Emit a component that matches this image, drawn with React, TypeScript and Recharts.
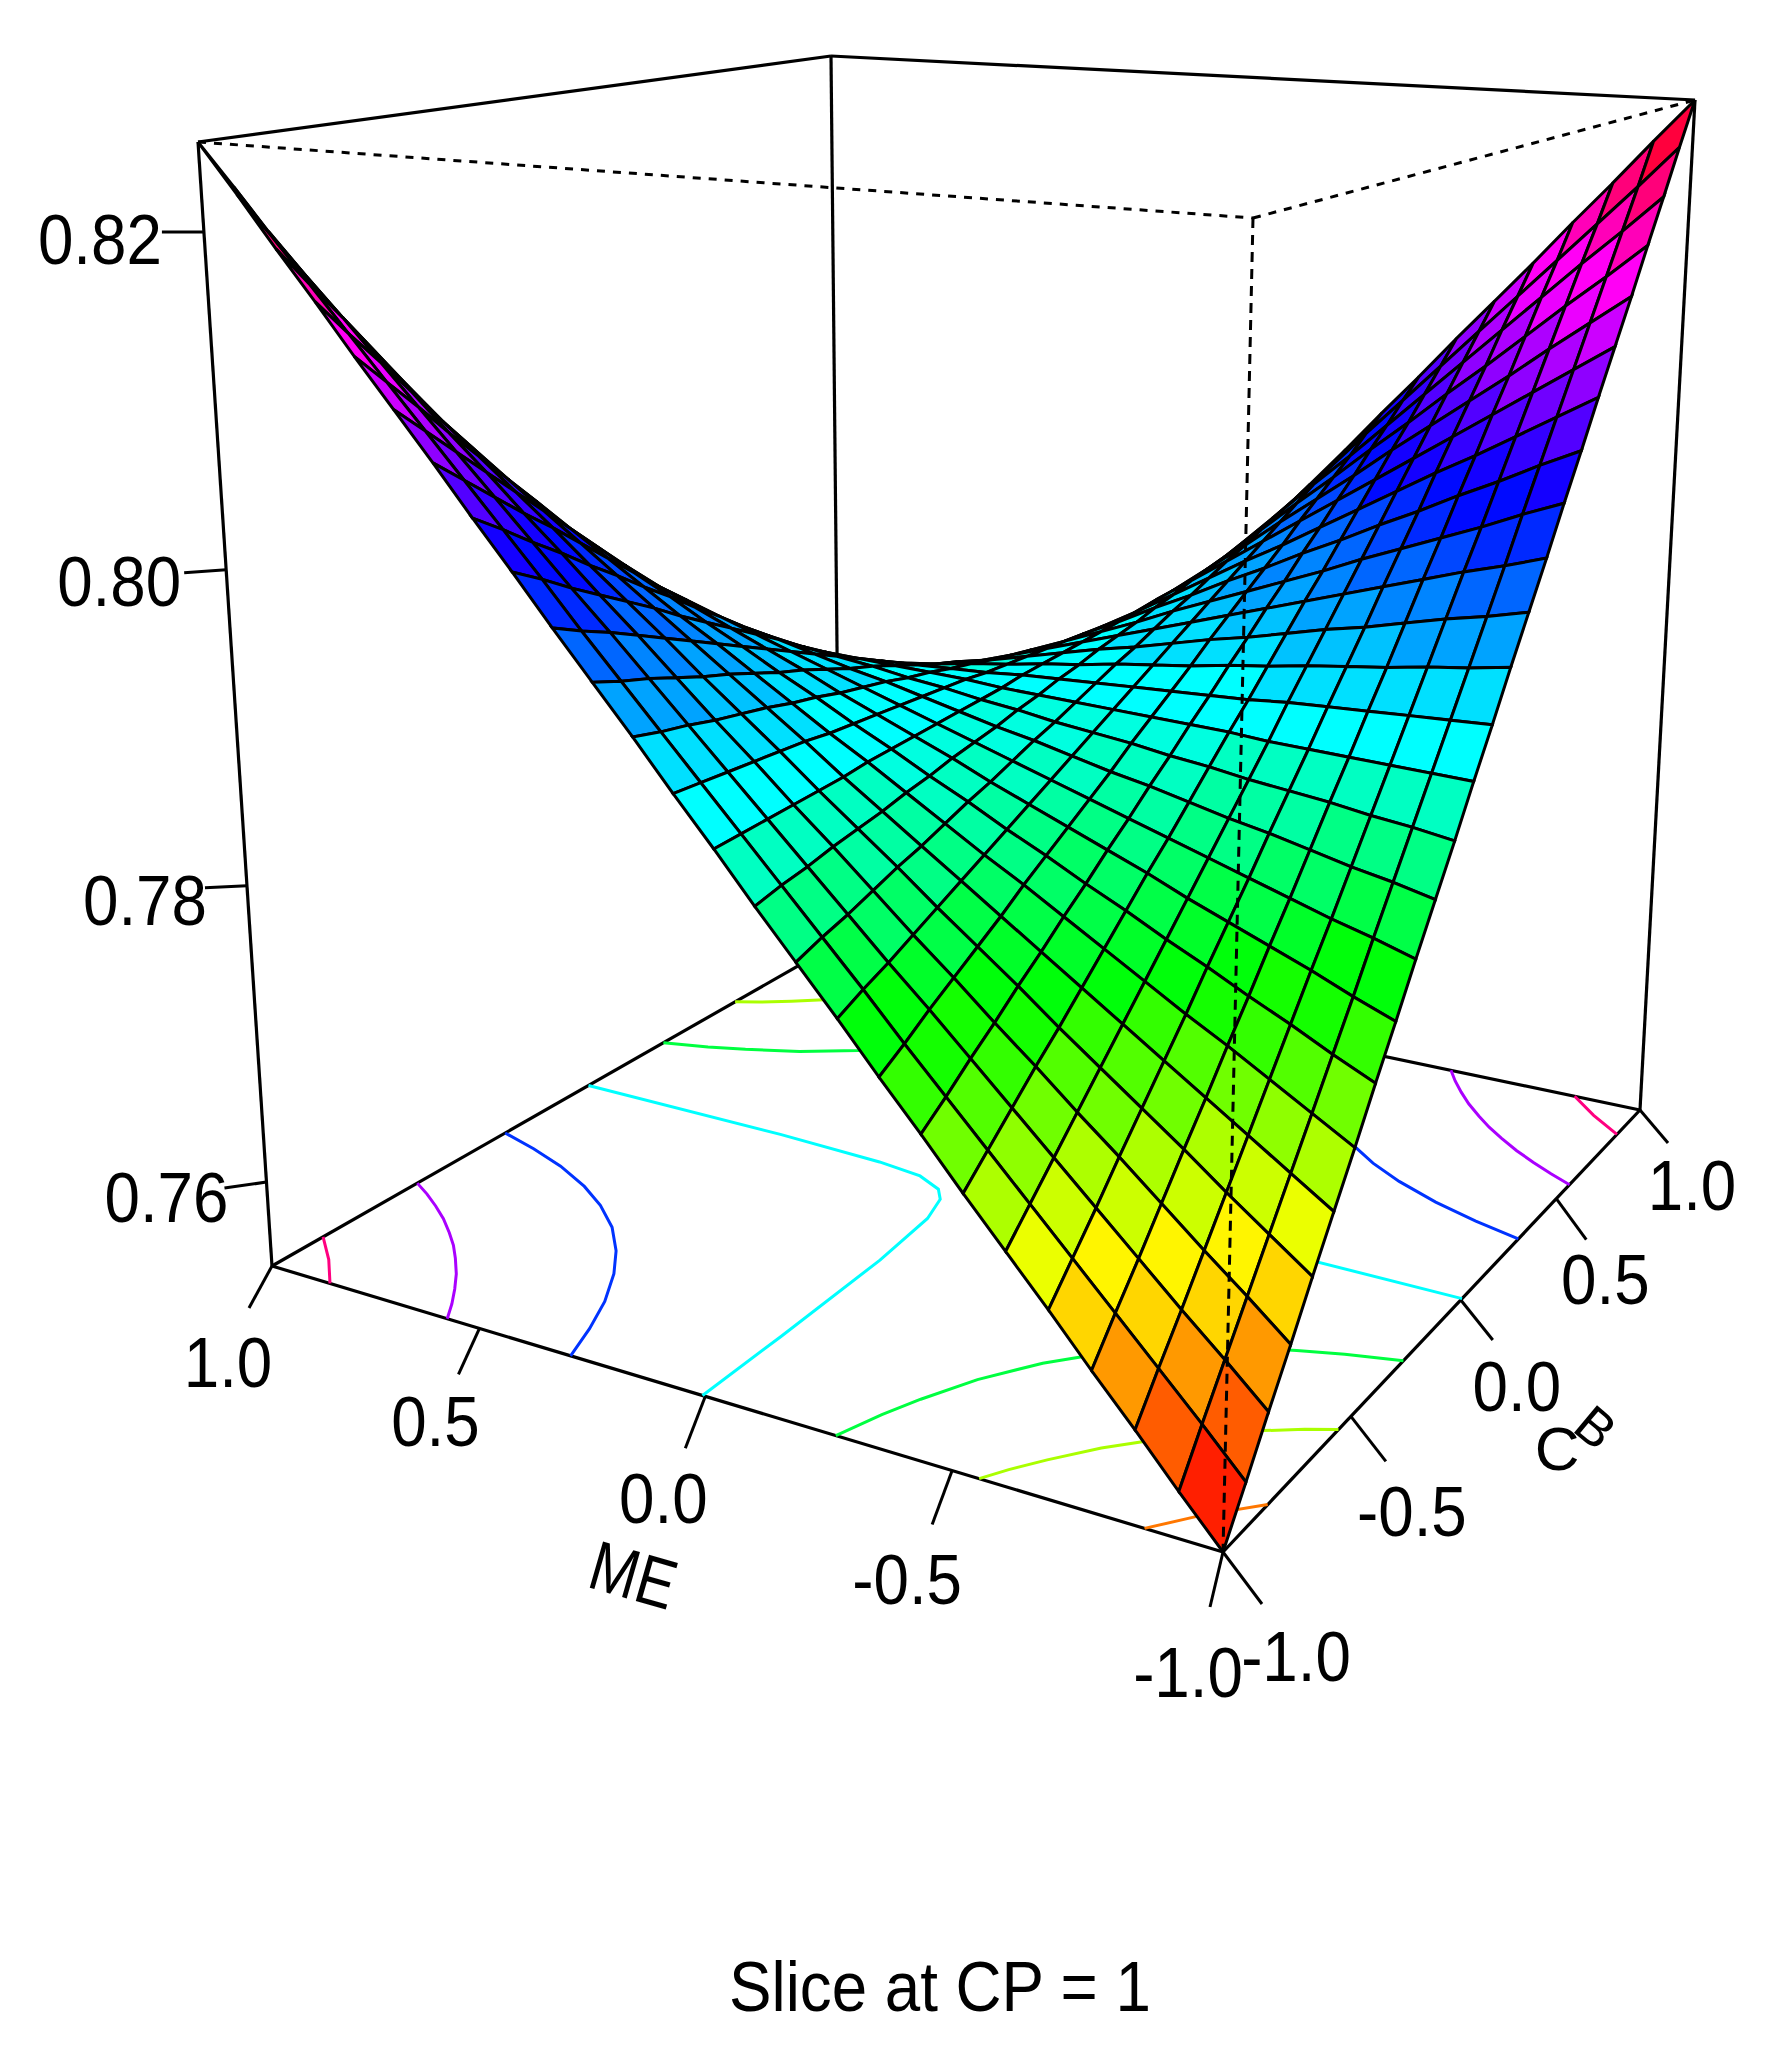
import { Scatter, ScatterChart, XAxis, YAxis } from "recharts";

const W = 1779;
const H = 2046;

const meGrid = [1, 0.92, 0.84, 0.76, 0.68, 0.6, 0.52, 0.44, 0.36, 0.28, 0.2, 0.12, 0.04, -0.04, -0.12, -0.2, -0.28, -0.36, -0.44, -0.52, -0.6, -0.68, -0.76, -0.84, -0.92, -1];
const cbGrid = [-1, -0.92, -0.84, -0.76, -0.68, -0.6, -0.52, -0.44, -0.36, -0.28, -0.2, -0.12, -0.04, 0.04, 0.12, 0.2, 0.28, 0.36, 0.44, 0.52, 0.6, 0.68, 0.76, 0.84, 0.92, 1];

// response, in units of 0.0001; one row per ME value, one column per CB value
const zRows = [
  [8251,8223,8194,8166,8137,8109,8081,8052,8024,7995,7967,7939,7910,7882,7853,7825,7797,7768,7740,7711,7683,7655,7626,7598,7569,7541],
  [8223,8196,8170,8144,8118,8092,8066,8040,8014,7987,7961,7935,7909,7883,7857,7831,7805,7778,7752,7726,7700,7674,7648,7622,7596,7569],
  [8194,8170,8147,8123,8099,8075,8051,8027,8003,7980,7956,7932,7908,7884,7860,7836,7812,7789,7765,7741,7717,7693,7669,7645,7622,7598],
  [8166,8144,8123,8101,8079,8058,8036,8015,7993,7972,7950,7928,7907,7885,7864,7842,7820,7799,7777,7756,7734,7713,7691,7669,7648,7626],
  [8137,8118,8099,8079,8060,8041,8022,8002,7983,7964,7944,7925,7906,7886,7867,7848,7828,7809,7790,7770,7751,7732,7713,7693,7674,7655],
  [8109,8092,8075,8058,8041,8024,8007,7990,7973,7956,7939,7922,7905,7887,7870,7853,7836,7819,7802,7785,7768,7751,7734,7717,7700,7683],
  [8081,8066,8051,8036,8022,8007,7992,7977,7962,7948,7933,7918,7903,7889,7874,7859,7844,7830,7815,7800,7785,7770,7756,7741,7726,7711],
  [8052,8040,8027,8015,8002,7990,7977,7965,7952,7940,7927,7915,7902,7890,7877,7865,7852,7840,7827,7815,7802,7790,7777,7765,7752,7740],
  [8024,8014,8003,7993,7983,7973,7962,7952,7942,7932,7922,7911,7901,7891,7881,7870,7860,7850,7840,7830,7819,7809,7799,7789,7778,7768],
  [7995,7987,7980,7972,7964,7956,7948,7940,7932,7924,7916,7908,7900,7892,7884,7876,7868,7860,7852,7844,7836,7828,7820,7812,7805,7797],
  [7967,7961,7956,7950,7944,7939,7933,7927,7922,7916,7910,7905,7899,7893,7887,7882,7876,7870,7865,7859,7853,7848,7842,7836,7831,7825],
  [7939,7935,7932,7928,7925,7922,7918,7915,7911,7908,7905,7901,7898,7894,7891,7887,7884,7881,7877,7874,7870,7867,7864,7860,7857,7853],
  [7910,7909,7908,7907,7906,7905,7903,7902,7901,7900,7899,7898,7897,7895,7894,7893,7892,7891,7890,7889,7887,7886,7885,7884,7883,7882],
  [7882,7883,7884,7885,7886,7887,7889,7890,7891,7892,7893,7894,7895,7897,7898,7899,7900,7901,7902,7903,7905,7906,7907,7908,7909,7910],
  [7853,7857,7860,7864,7867,7870,7874,7877,7881,7884,7887,7891,7894,7898,7901,7905,7908,7911,7915,7918,7922,7925,7928,7932,7935,7939],
  [7825,7831,7836,7842,7848,7853,7859,7865,7870,7876,7882,7887,7893,7899,7905,7910,7916,7922,7927,7933,7939,7944,7950,7956,7961,7967],
  [7797,7805,7812,7820,7828,7836,7844,7852,7860,7868,7876,7884,7892,7900,7908,7916,7924,7932,7940,7948,7956,7964,7972,7980,7987,7995],
  [7768,7778,7789,7799,7809,7819,7830,7840,7850,7860,7870,7881,7891,7901,7911,7922,7932,7942,7952,7962,7973,7983,7993,8003,8014,8024],
  [7740,7752,7765,7777,7790,7802,7815,7827,7840,7852,7865,7877,7890,7902,7915,7927,7940,7952,7965,7977,7990,8002,8015,8027,8040,8052],
  [7711,7726,7741,7756,7770,7785,7800,7815,7830,7844,7859,7874,7889,7903,7918,7933,7948,7962,7977,7992,8007,8022,8036,8051,8066,8081],
  [7683,7700,7717,7734,7751,7768,7785,7802,7819,7836,7853,7870,7887,7905,7922,7939,7956,7973,7990,8007,8024,8041,8058,8075,8092,8109],
  [7655,7674,7693,7713,7732,7751,7770,7790,7809,7828,7848,7867,7886,7906,7925,7944,7964,7983,8002,8022,8041,8060,8079,8099,8118,8137],
  [7626,7648,7669,7691,7713,7734,7756,7777,7799,7820,7842,7864,7885,7907,7928,7950,7972,7993,8015,8036,8058,8079,8101,8123,8144,8166],
  [7598,7622,7645,7669,7693,7717,7741,7765,7789,7812,7836,7860,7884,7908,7932,7956,7980,8003,8027,8051,8075,8099,8123,8147,8170,8194],
  [7569,7596,7622,7648,7674,7700,7726,7752,7778,7805,7831,7857,7883,7909,7935,7961,7987,8014,8040,8066,8092,8118,8144,8170,8196,8223],
  [7541,7569,7598,7626,7655,7683,7711,7740,7768,7797,7825,7853,7882,7910,7939,7967,7995,8024,8052,8081,8109,8137,8166,8194,8223,8251],
];

const zLo = 0.7541;
const zHi = 0.8251;

const zTicks = [0.82, 0.8, 0.78, 0.76];
const zTickText = ["0.82", "0.80", "0.78", "0.76"];
const meTicks = [1, 0.5, 0, -0.5, -1];
const meTickText = ["1.0", "0.5", "0.0", "-0.5", "-1.0"];
const cbTicks = [1, 0.5, 0, -0.5, -1];
const cbTickText = ["1.0", "0.5", "0.0", "-0.5", "-1.0"];

// contour lines on the floor, as [ME, CB]
const pinkLeft = [[1, -0.856], [0.925, -0.925], [0.856, -1]];
const pinkRight = [[-1, 0.856], [-0.925, 0.925], [-0.856, 1]];
const purpleLeft = [[1, -0.575], [0.95, -0.605], [0.9, -0.639], [0.85, -0.676], [0.8, -0.719], [0.758, -0.758], [0.719, -0.8], [0.676, -0.85], [0.639, -0.9], [0.605, -0.95], [0.575, -1]];
const purpleRight = [[-1, 0.575], [-0.95, 0.605], [-0.9, 0.639], [-0.85, 0.676], [-0.8, 0.719], [-0.758, 0.758], [-0.719, 0.8], [-0.676, 0.85], [-0.639, 0.9], [-0.605, 0.95], [-0.575, 1]];
const blueLeft = [[1, -0.293], [0.9, -0.326], [0.8, -0.366], [0.7, -0.419], [0.62, -0.473], [0.541, -0.541], [0.473, -0.62], [0.419, -0.7], [0.366, -0.8], [0.326, -0.9], [0.293, -1]];
const blueRight = [[-1, 0.293], [-0.9, 0.326], [-0.8, 0.366], [-0.7, 0.419], [-0.62, 0.473], [-0.541, 0.541], [-0.473, 0.62], [-0.419, 0.7], [-0.366, 0.8], [-0.326, 0.9], [-0.293, 1]];
const cyanLeft = [[1, -0.006], [0.5, -0.012], [0.25, -0.024], [0.144, -0.04], [0.08, -0.075], [0.053, -0.113], [0.03, -0.2], [0.015, -0.4], [0.008, -0.75], [0.006, -1]];
const cyanRight = [[-1, 0.006], [-0.5, 0.012], [-0.25, 0.024], [-0.144, 0.04], [-0.08, 0.075], [-0.053, 0.113], [-0.03, 0.2], [-0.015, 0.4], [-0.008, 0.75], [-0.006, 1]];
const greenFront = [[-0.27, -1], [-0.3, -0.9], [-0.33, -0.82], [-0.38, -0.71], [-0.45, -0.6], [-0.52, -0.52], [-0.6, -0.45], [-0.71, -0.38], [-0.82, -0.33], [-0.9, -0.3], [-1, -0.27]];
const greenBack = [[0.27, 1], [0.3, 0.9], [0.33, 0.82], [0.38, 0.71], [0.45, 0.6], [0.52, 0.52], [0.6, 0.45], [0.71, 0.38], [0.82, 0.33], [0.9, 0.3], [1, 0.27]];
const limeFront = [[-0.552, -1], [-0.58, -0.95], [-0.62, -0.89], [-0.68, -0.81], [-0.74, -0.746], [-0.81, -0.68], [-0.89, -0.62], [-0.95, -0.58], [-1, -0.552]];
const limeBack = [[0.552, 1], [0.58, 0.95], [0.62, 0.89], [0.68, 0.81], [0.74, 0.746], [0.81, 0.68], [0.89, 0.62], [0.95, 0.58], [1, 0.552]];
const orangeFront = [[-0.86, -1], [-0.92, -0.92], [-1, -0.834]];
const orangeBack = [[0.834, 1], [0.913, 0.913], [1, 0.834]];

const contours = [
  { pts: pinkLeft, color: "#ff0080" },
  { pts: pinkRight, color: "#ff0080" },
  { pts: purpleLeft, color: "#aa00ff" },
  { pts: purpleRight, color: "#aa00ff" },
  { pts: blueLeft, color: "#0033ff" },
  { pts: blueRight, color: "#0033ff" },
  { pts: cyanLeft, color: "#00ffff" },
  { pts: cyanRight, color: "#00ffff" },
  { pts: greenFront, color: "#00ff40" },
  { pts: greenBack, color: "#00ff40" },
  { pts: limeFront, color: "#aaff00" },
  { pts: limeBack, color: "#aaff00" },
  { pts: orangeFront, color: "#ff7700" },
  { pts: orangeBack, color: "#ff7700" },
];

// view of the box on the page: corners at (ME=1,CB=-1), (ME=-1,CB=-1), (ME=-1,CB=1), (ME=1,CB=1)
const floorQuad = [[272, 1266], [1223, 1552], [1640, 1110], [840, 942]];
const topQuad = [[198, 142], [1253, 218], [1695, 100], [831, 56]];
const topDepth = 0.89;

function homography(q: number[][]) {
  const [p0, p1, p2, p3] = q;
  const sx = p0[0] - p1[0] + p2[0] - p3[0];
  const sy = p0[1] - p1[1] + p2[1] - p3[1];
  const d1x = p1[0] - p2[0];
  const d1y = p1[1] - p2[1];
  const d2x = p3[0] - p2[0];
  const d2y = p3[1] - p2[1];
  const det = d1x * d2y - d1y * d2x;
  const g = (sx * d2y - sy * d2x) / det;
  const h = (d1x * sy - d1y * sx) / det;
  return (u: number, v: number) => [
    p0[0] + (p1[0] - p0[0] + g * p1[0]) * u + (p3[0] - p0[0] + h * p3[0]) * v,
    p0[1] + (p1[1] - p0[1] + g * p1[1]) * u + (p3[1] - p0[1] + h * p3[1]) * v,
    1 + g * u + h * v,
  ];
}

const floorH = homography(floorQuad);
const topH = homography(topQuad);

function project(me: number, cb: number, z: number) {
  const u = (1 - me) / 2;
  const v = (cb + 1) / 2;
  const t = (z - zLo) / (zHi - zLo);
  const a = floorH(u, v);
  const b = topH(u, v);
  const k = t * topDepth;
  const w = (1 - t) * a[2] + k * b[2];
  return { x: ((1 - t) * a[0] + k * b[0]) / w, y: ((1 - t) * a[1] + k * b[1]) / w };
}

function facetColor(z: number) {
  const f = (z - zLo) / (zHi - zLo);
  const hue = Math.max(0, Math.round((367 * f - 7) / 7.2) * 7.2);
  return `hsl(${hue}, 100%, 50%)`;
}

const cells: any[] = [];
for (let r = 0; r < meGrid.length - 1; r++) {
  for (let c = cbGrid.length - 2; c >= 0; c--) {
    const ids = [[r, c], [r + 1, c], [r + 1, c + 1], [r, c + 1]];
    const corners = ids.map(([i, j]) => project(meGrid[i], cbGrid[j], zRows[i][j] / 10000));
    const zMean = ids.reduce((s, [i, j]) => s + zRows[i][j] / 10000, 0) / 4;
    cells.push({
      x: corners.reduce((s, p) => s + p.x, 0) / 4,
      y: corners.reduce((s, p) => s + p.y, 0) / 4,
      corners,
      fill: facetColor(zMean),
    });
  }
}

const fa = project(1, -1, zLo);
const fd = project(-1, -1, zLo);
const fc = project(-1, 1, zLo);
const fb = project(1, 1, zLo);
const tA = project(1, -1, zHi);
const tD = project(-1, -1, zHi);
const tC = project(-1, 1, zHi);
const tB = project(1, 1, zHi);

const solidEdges = [[tA, tB], [tB, tC], [tA, fa], [tC, fc], [tB, fb], [fa, fb], [fa, fd], [fd, fc], [fb, fc]];
const dashedTop = [[tA, tD], [tD, tC]];
const dashedDrop = [[tD, fd]];

const zTickEnd = [[-42, 0], [-42, 3], [-42, 2], [-42, 6]];
const meTickEnd = [[-23, 42], [-21, 46], [-20, 52], [-20, 54], [-13, 55]];
const cbTickEnd = [[28, 33], [30, 41], [32, 40], [35, 45], [39, 52]];
const zLabelAt = [[-104, 6], [-107, 10], [-102, 13], [-100, 14]];
const meLabelAt = [[-44, 95], [-44, 92], [-42, 101], [-45, 107], [-35, 119]];
const cbLabelAt = [[52, 74], [49, 79], [56, 85], [61, 94], [73, 103]];

const tickSegs: any[] = [];
const labels: any[] = [];
zTicks.forEach((t, i) => {
  const p = project(1, -1, t);
  tickSegs.push([p, { x: p.x + zTickEnd[i][0], y: p.y + zTickEnd[i][1] }]);
  labels.push({ x: p.x + zLabelAt[i][0], y: p.y + zLabelAt[i][1], text: zTickText[i] });
});
meTicks.forEach((t, i) => {
  const p = project(t, -1, zLo);
  tickSegs.push([p, { x: p.x + meTickEnd[i][0], y: p.y + meTickEnd[i][1] }]);
  labels.push({ x: p.x + meLabelAt[i][0], y: p.y + meLabelAt[i][1], text: meTickText[i] });
});
cbTicks.forEach((t, i) => {
  const p = project(-1, t, zLo);
  tickSegs.push([p, { x: p.x + cbTickEnd[i][0], y: p.y + cbTickEnd[i][1] }]);
  labels.push({ x: p.x + cbLabelAt[i][0], y: p.y + cbLabelAt[i][1], text: cbTickText[i] });
});

const noDot = () => <g />;

const CellShape = (props: any) => {
  const { cx, cy, payload } = props;
  const pts = payload.corners.map((p: any) => `${cx + p.x - payload.x},${cy + p.y - payload.y}`).join(" ");
  return <polygon points={pts} fill={payload.fill} stroke="#000" strokeWidth={3} strokeLinejoin="miter" />;
};

const textStyle = { fontFamily: "'Liberation Sans', Arial, sans-serif", fontSize: 70, fill: "#000" };

const LabelShape = (props: any) => {
  const { cx, cy, payload } = props;
  return (
    <text transform={`translate(${cx} ${cy}) scale(0.91 1)`} textAnchor="middle" dy={26} style={textStyle}>
      {payload.text}
    </text>
  );
};

const MeLabel = (props: any) => {
  const { cx, cy, payload } = props;
  return (
    <text transform={`translate(${cx} ${cy}) rotate(16) scale(0.82 1)`} textAnchor="middle" dy={24} style={textStyle}>
      {payload.text}
    </text>
  );
};

// in the source the two letters of this label sit on top of each other
const CbLabel = (props: any) => {
  const { cx, cy, payload } = props;
  return (
    <text transform={`translate(${cx} ${cy})`} style={{ ...textStyle, fontSize: 62 }}>
      <tspan x={-38} y={28}>{payload.text[0]}</tspan>
      <tspan x={-2} y={-12} rotate={40} fontSize={52}>{payload.text[1]}</tspan>
    </text>
  );
};

const meAnchor = project(0, -1, zLo);
const cbAnchor = project(-1, 0, zLo);

export default function App() {
  return (
    <div style={{ position: "absolute", left: 0, top: 0, width: W, height: H, background: "#fff" }}>
      <ScatterChart width={W} height={H} margin={{ top: 0, right: 0, bottom: 0, left: 0 }}>
        <XAxis type="number" dataKey="x" domain={[0, W]} hide />
        <YAxis type="number" dataKey="y" domain={[0, H]} reversed hide />
        {tickSegs.map((seg, i) => (
          <Scatter key={`t${i}`} data={seg} line={{ stroke: "#000", strokeWidth: 3 }} shape={noDot} isAnimationActive={false} />
        ))}
        {solidEdges.map((seg, i) => (
          <Scatter key={`e${i}`} data={seg} line={{ stroke: "#000", strokeWidth: 3.2 }} shape={noDot} isAnimationActive={false} />
        ))}
        {contours.map((c, i) => (
          <Scatter
            key={`c${i}`}
            data={c.pts.map(([me, cb]) => project(me, cb, zLo))}
            line={{ stroke: c.color, strokeWidth: 3 }}
            shape={noDot}
            isAnimationActive={false}
          />
        ))}
        <Scatter data={cells} shape={CellShape} isAnimationActive={false} />
        {dashedTop.map((seg, i) => (
          <Scatter key={`d${i}`} data={seg} line={{ stroke: "#000", strokeWidth: 3, strokeDasharray: "8 8" }} shape={noDot} isAnimationActive={false} />
        ))}
        {dashedDrop.map((seg, i) => (
          <Scatter key={`f${i}`} data={seg} line={{ stroke: "#000", strokeWidth: 3, strokeDasharray: "10 7" }} shape={noDot} isAnimationActive={false} />
        ))}
        <Scatter data={labels} shape={LabelShape} isAnimationActive={false} />
        <Scatter data={[{ x: meAnchor.x - 72, y: meAnchor.y + 179, text: "ME" }]} shape={MeLabel} isAnimationActive={false} />
        <Scatter data={[{ x: cbAnchor.x + 112, y: cbAnchor.y + 142, text: "CB" }]} shape={CbLabel} isAnimationActive={false} />
        <Scatter data={[{ x: 940, y: 1985, text: "Slice at CP = 1" }]} shape={LabelShape} isAnimationActive={false} />
      </ScatterChart>
    </div>
  );
}
